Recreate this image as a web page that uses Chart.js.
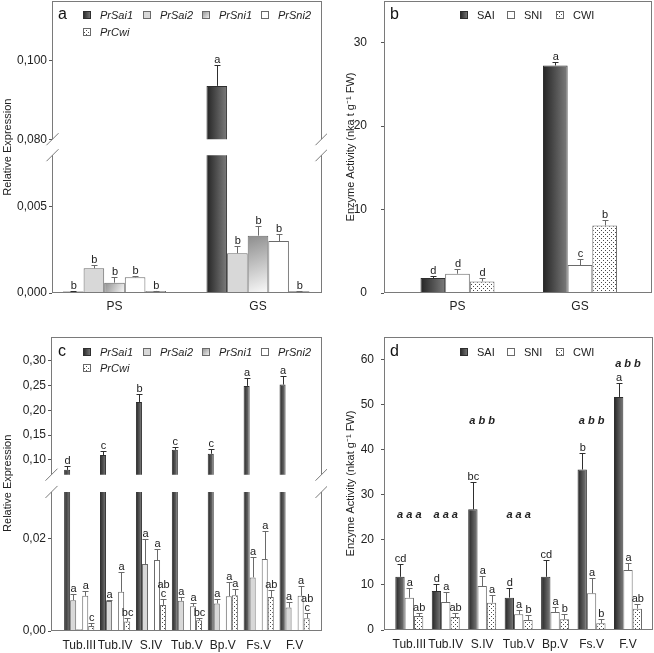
<!DOCTYPE html>
<html>
<head>
<meta charset="utf-8">
<script src="https://cdn.jsdelivr.net/npm/chart.js@4.4.1/dist/chart.umd.min.js"></script>
<style>
  body { margin: 0; background: #fff; overflow: hidden; }
  #wrap { position: relative; width: 654px; height: 653px; }
  canvas { position: absolute; }
</style>
</head>
<body>
<div id="wrap">
  <canvas id="ca" width="327" height="320" style="left:0;top:0"></canvas>
  <canvas id="cb" width="327" height="320" style="left:327px;top:0"></canvas>
  <canvas id="cc" width="327" height="333" style="left:0;top:320px"></canvas>
  <canvas id="cd" width="327" height="333" style="left:327px;top:320px"></canvas>
</div>
<script>
const FONT = '"Liberation Sans", Arial, Helvetica, sans-serif';
Chart.defaults.font.family = FONT;
Chart.defaults.color = '#222';

// ---------- data ----------
const stages = ['PS', 'GS'];
const tissues = ['Tub.III', 'Tub.IV', 'S.IV', 'Tub.V', 'Bp.V', 'Fs.V', 'F.V'];
const genes = ['PrSai1', 'PrSai2', 'PrSni1', 'PrSni2', 'PrCwi'];
const enzymes = ['SAI', 'SNI', 'CWI'];

// a: relative expression
const exprA = [
  [0.00009, 0.0935],
  [0.00143, 0.00231],
  [0.00060, 0.00333],
  [0.00091, 0.00302],
  [0.00012, 0.00010]
];
const exprAErr = [
  [0.00001, 0.0052],
  [0.00020, 0.00040],
  [0.00035, 0.00056],
  [0.00010, 0.00040],
  [0.00002, 0.00002]
];
const exprALetters = [['b', 'a'], ['b', 'b'], ['b', 'b'], ['b', 'b'], ['b', 'b']];

// b: enzyme activity
const actB = [[1.79, 27.27], [2.31, 3.35], [1.39, 8.09]];
const actBErr = [[0.2, 0.45], [0.55, 0.7], [0.4, 0.7]];
const actBLetters = [['d', 'a'], ['d', 'c'], ['d', 'b']];

// c: relative expression per tissue
const exprC = [
  [0.0797, 0.1095, 0.2169, 0.1203, 0.1122, 0.2493, 0.2519],
  [0.00665, 0.00649, 0.01444, 0.00650, 0.00593, 0.01156, 0.00506],
  [0.0004, 0.0001, 0.0002, 0.0001, 0.0001, 0.0002, 0.0001],
  [0.00758, 0.00844, 0.0153, 0.00535, 0.00751, 0.01552, 0.00758],
  [0.00108, 0.00203, 0.00563, 0.00232, 0.00773, 0.00736, 0.00275]
];
const exprCErr = [
  [0.0088, 0.0081, 0.0168, 0.0054, 0.0101, 0.0162, 0.0182],
  [0.0013, 0.0003, 0.0054, 0.0009, 0.0009, 0.0045, 0.0012],
  [0, 0, 0, 0, 0, 0, 0],
  [0.0011, 0.0043, 0.0023, 0.0006, 0.0031, 0.0061, 0.0022],
  [0.0006, 0.0007, 0.0012, 0.0005, 0.0013, 0.0014, 0.0011]
];
const exprCLetters = [
  ['d', 'c', 'b', 'c', 'c', 'a', 'a'],
  ['a', 'a', 'a', 'a', 'a', 'a', 'a'],
  ['', '', '', '', '', '', ''],
  ['a', 'a', 'a', 'a', 'a', 'a', 'a'],
  ['c', 'bc', 'ab|c', 'bc', 'a', 'ab', 'ab|c']
];

// d: enzyme activity per tissue
const actD = [
  [11.8, 8.65, 26.76, 7.17, 11.8, 35.6, 51.7],
  [7.17, 6.2, 9.76, 3.47, 4.0, 8.13, 13.3],
  [3.1, 2.88, 6.06, 2.2, 2.37, 1.48, 4.73]
];
const actDErr = [
  [2.8, 1.5, 6.0, 2.2, 3.7, 3.7, 3.1],
  [2.2, 2.2, 2.2, 1.0, 1.2, 3.3, 1.5],
  [0.7, 0.8, 1.7, 1.1, 1.2, 1.0, 1.0]
];
const actDLetters = [
  ['cd', 'd', 'bc', 'd', 'cd', 'b', 'a'],
  ['a', 'a', 'a', 'a', 'a', 'a', 'a'],
  ['ab', 'ab', 'a', 'b', 'b', 'b', 'ab']
];
const groupLettersD = ['a a a', 'a a a', 'a b b', 'a a a', '', 'a b b', 'a b b'];
const groupLevelD = [25.5, 25.5, 46.4, 25.5, null, 46.4, 59];

const geneKinds = ['dark', 'light', 'shade', 'white', 'dots'];
const enzymeKinds = ['dark', 'white', 'dots'];

// ---------- fills ----------
const dotFill = (function () {
  const c = document.createElement('canvas');
  c.width = 4; c.height = 4;
  const g = c.getContext('2d');
  g.fillStyle = '#fff'; g.fillRect(0, 0, 4, 4);
  g.fillStyle = '#4a4a4a';
  g.fillRect(0, 0, 1, 1); g.fillRect(2, 2, 1, 1);
  return g.createPattern(c, 'repeat');
})();

function makeFill(ctx, kind, l, t, r, b) {
  if (kind === 'dark' || kind === 'shade') {
    if (![l, t, r, b].every(Number.isFinite)) return kind === 'dark' ? '#555' : '#ccc';
  }
  if (kind === 'dark') {
    const g = ctx.createLinearGradient(l, 0, r, 0);
    g.addColorStop(0, '#242424'); g.addColorStop(1, '#7c7c7c');
    return g;
  }
  if (kind === 'shade') {
    const g = ctx.createLinearGradient(l, t, r, b);
    g.addColorStop(0, '#8c8c8c'); g.addColorStop(1, '#fbfbfb');
    return g;
  }
  if (kind === 'light') return '#d8d8d8';
  if (kind === 'dots') return dotFill;
  return '#ffffff';
}

function barGeom(c) {
  const ch = c.chart, ds = c.dataset, xs = ch.scales.x, ys = ch.scales[ds.yAxisID];
  if (!xs || !ys || !c.parsed) return {l: NaN, r: NaN, t: NaN, b: NaN};
  const step = Math.abs(xs.getPixelForValue(1) - xs.getPixelForValue(0));
  const group = step * ds.categoryPercentage;
  const w = group / ds.seriesCount;
  const left = xs.getPixelForValue(c.dataIndex) - group / 2 + ds.seriesIndex * w;
  return {l: left, r: left + w, t: Math.max(ys.top, ys.getPixelForValue(c.parsed.y)), b: ys.bottom};
}

function fillFor(kind) {
  if (kind !== 'dark' && kind !== 'shade') return makeFill(null, kind);
  return c => {
    if (c.type !== 'data') return kind === 'dark' ? '#555' : '#ccc';
    const g = barGeom(c);
    return makeFill(c.chart.ctx, kind, g.l, g.t, g.r, g.b);
  };
}

// ---------- decorations: error bars, letters, frame, legend ----------
function decorPlugin(P) {
  return {
    id: 'decor',
    afterDatasetsDraw(chart) {
      const ctx = chart.ctx, sy = chart.scales.y, st = chart.scales.yTop;
      ctx.save();
      P.vals.forEach((row, k) => {
        row.forEach((v, i) => {
          const upper = P.broken && v > P.low.max;
          const sc = upper ? st : sy;
          const bar = chart.getDatasetMeta(upper ? P.dsIndex[k].top : P.dsIndex[k].low).data[i];
          const x = bar.x;
          const e = P.errs[k][i];
          const y0 = sc.getPixelForValue(v), y1 = sc.getPixelForValue(v + e);
          if (e > 0) {
            ctx.strokeStyle = P.kinds[k] === 'dark' ? '#2e2e2e' : '#6a6a6a';
            ctx.lineWidth = 1;
            ctx.beginPath();
            ctx.moveTo(Math.round(x) + 0.5, y0);
            ctx.lineTo(Math.round(x) + 0.5, Math.round(y1) + 0.5);
            ctx.moveTo(Math.round(x) - 2.5, Math.round(y1) + 0.5);
            ctx.lineTo(Math.round(x) + 3.5, Math.round(y1) + 0.5);
            ctx.stroke();
          }
          const lines = P.lets[k][i].split('|').reverse();
          ctx.fillStyle = '#222';
          ctx.font = '11px ' + FONT;
          ctx.textAlign = 'center';
          ctx.textBaseline = 'alphabetic';
          lines.forEach((t, j) => ctx.fillText(t, x + 0.5, y1 - 2 - j * 9));
        });
      });
      if (P.groupLetters) {
        ctx.font = 'italic bold 11px ' + FONT;
        ctx.textBaseline = 'middle';
        P.groupLetters.forEach((t, i) => {
          if (!t) return;
          ctx.fillText(t, chart.scales.x.getPixelForValue(i), sy.getPixelForValue(P.groupLevel[i]));
        });
      }
      ctx.restore();
    },
    afterDraw(chart) {
      const ctx = chart.ctx, a = chart.chartArea;
      const L = Math.round(a.left) + 0.5, R = Math.round(a.right) - 0.5;
      const T = Math.round(a.top) + 0.5, B = Math.round(a.bottom) - 0.5;
      ctx.save();
      ctx.strokeStyle = '#7a7a7a';
      ctx.lineWidth = 1;
      ctx.beginPath();
      const segs = P.broken ? [chart.scales.yTop, chart.scales.y] : [chart.scales.y];
      segs.forEach(s => {
        ctx.moveTo(L, s.top); ctx.lineTo(L, s.bottom);
        ctx.moveTo(R, s.top); ctx.lineTo(R, s.bottom);
      });
      ctx.moveTo(L, T); ctx.lineTo(R, T);
      ctx.moveTo(L, B); ctx.lineTo(R, B);
      if (P.broken) {
        [chart.scales.yTop.bottom, chart.scales.y.top].forEach(yy => {
          [L, R].forEach(xx => {
            ctx.moveTo(xx - 6, yy + 6); ctx.lineTo(xx + 6, yy - 6);
          });
        });
      }
      ctx.stroke();

      // panel tag
      ctx.fillStyle = '#111';
      ctx.font = '16px ' + FONT;
      ctx.textAlign = 'left';
      ctx.textBaseline = 'alphabetic';
      ctx.fillText(P.tag, P.tagPos[0], P.tagPos[1]);

      // legend
      ctx.font = (P.italic ? 'italic ' : '') + '11px ' + FONT;
      ctx.textBaseline = 'middle';
      P.names.forEach((name, k) => {
        const [bx, by] = P.legendPos[k];
        const l = bx, t = by - 4, s = 8;
        ctx.fillStyle = makeFill(ctx, P.kinds[k], l, t, l + s, t + s);
        ctx.fillRect(l, t, s, s);
        ctx.strokeStyle = P.kinds[k] === 'dark' ? '#2e2e2e' : '#6a6a6a';
        ctx.strokeRect(l + 0.5, t + 0.5, s - 1, s - 1);
        ctx.fillStyle = '#222';
        ctx.fillText(name, bx + 17, by + 0.5);
      });
      ctx.restore();
    }
  };
}

// ---------- chart builder ----------
function buildChart(P) {
  const n = P.names.length;
  const datasets = [];
  P.dsIndex = [];
  P.names.forEach((name, k) => {
    const style = {
      label: name, stack: 's' + k, seriesIndex: k, seriesCount: n,
      categoryPercentage: P.catPct, barPercentage: 1,
      backgroundColor: fillFor(P.kinds[k]),
      borderColor: P.kinds[k] === 'dark' ? '#2e2e2e' : '#6a6a6a',
      borderWidth: 1
    };
    const idx = {low: datasets.length};
    datasets.push(Object.assign({}, style, {yAxisID: 'y', data: P.vals[k].map((v, i) => ({x: i, y: v}))}));
    if (P.broken && Math.max(...P.vals[k]) > P.low.max) {
      idx.top = datasets.length;
      datasets.push(Object.assign({}, style, {yAxisID: 'yTop', data: P.vals[k].map((v, i) => ({x: i, y: v}))}));
    }
    P.dsIndex.push(idx);
  });

  const fmt = v => v.toFixed(P.decimals).replace('.', ',');
  const fitY = s => { s.width = P.yWidth; s.paddingTop = 0; s.paddingBottom = 0; };
  const yGrid = {display: true, drawOnChartArea: false, drawTicks: true, tickLength: 3, color: '#555'};
  const yTicks = step => ({stepSize: step, includeBounds: false, padding: P.tickPad, font: {size: 12}, color: '#222', callback: fmt});
  const title = {display: true, text: P.title, font: {size: 11}, color: '#222', padding: {top: P.titlePad, bottom: 0}};

  const scales = {
    x: {
      type: 'linear', min: P.xMin, max: P.xMax, offset: false, stacked: true,
      grid: {display: false, drawTicks: false}, border: {display: false},
      ticks: {stepSize: 1, includeBounds: false, autoSkip: false, maxRotation: 0, minRotation: 0,
        padding: P.xLabelPad, font: {size: 12}, color: '#222',
        callback: v => (P.cats[v] !== undefined ? P.cats[v] : '')},
      afterFit: s => { s.height = P.xHeight; s.paddingLeft = 0; s.paddingRight = 0; }
    }
  };
  if (P.broken) {
    scales.yTop = {type: 'linear', position: 'left', stack: 'v', stackWeight: P.weights[0], weight: 3,
      min: P.high.min, max: P.high.max, stacked: false, ticks: yTicks(P.high.step), grid: yGrid,
      border: {display: false}, afterFit: fitY};
    scales.yGap = {type: 'linear', position: 'left', stack: 'v', stackWeight: P.weights[1], weight: 2,
      ticks: {display: false}, grid: {display: false}, border: {display: false}, title: title, afterFit: fitY};
    scales.y = {type: 'linear', position: 'left', stack: 'v', stackWeight: P.weights[2], weight: 1,
      min: 0, max: P.low.max, stacked: false, ticks: yTicks(P.low.step), grid: yGrid,
      border: {display: false}, afterFit: fitY};
  } else {
    scales.y = {type: 'linear', position: 'left', min: 0, max: P.yMax, stacked: false,
      ticks: yTicks(P.yStep), grid: yGrid, border: {display: false}, title: title, afterFit: fitY};
  }

  return new Chart(document.getElementById(P.canvas), {
    type: 'bar',
    data: {datasets},
    options: {
      responsive: false, animation: false, devicePixelRatio: 1, events: [],
      layout: {padding: {top: P.padTop, right: P.padRight, left: 0, bottom: 0}},
      plugins: {legend: {display: false}, tooltip: {enabled: false}},
      scales
    },
    plugins: [decorPlugin(P)]
  });
}

buildChart({
  canvas: 'ca', cats: stages, names: genes, kinds: geneKinds, italic: true,
  vals: exprA, errs: exprAErr, lets: exprALetters,
  broken: true, low: {max: 0.008, step: 0.005}, high: {min: 0.08, max: 0.115, step: 0.02},
  weights: [138, 16, 137.6], decimals: 3,
  xMin: -0.4355, xMax: 1.446, catPct: 0.718,
  padTop: 1, padRight: 5, yWidth: 52, xHeight: 27, xLabelPad: 6, tickPad: 2,
  title: 'Relative Expression', titlePad: 1,
  tag: 'a', tagPos: [58, 19], legendPos: [[83, 15], [143, 15], [202, 15], [261, 15], [83, 32]]
});

buildChart({
  canvas: 'cb', cats: stages, names: enzymes, kinds: enzymeKinds, italic: false,
  vals: actB, errs: actBErr, lets: actBLetters,
  broken: false, yMax: 35, yStep: 10, decimals: 0,
  xMin: -0.6, xMax: 1.588, catPct: 0.604,
  padTop: 1, padRight: 2, yWidth: 57, xHeight: 27, xLabelPad: 6, tickPad: 14,
  title: 'Enzyme Activity (nka t g\u207B\u00B9 FW)', titlePad: 17,
  tag: 'b', tagPos: [63, 19], legendPos: [[133, 15], [180, 15], [229, 15]]
});

buildChart({
  canvas: 'cc', cats: tissues, names: genes, kinds: geneKinds, italic: true,
  vals: exprC, errs: exprCErr, lets: exprCLetters,
  broken: true, low: {max: 0.03, step: 0.02}, high: {min: 0.07, max: 0.348, step: 0.05},
  weights: [137.2, 17.2, 138.6], decimals: 2,
  xMin: -0.7855, xMax: 6.763, catPct: 0.84,
  padTop: 17, padRight: 5, yWidth: 51, xHeight: 22, xLabelPad: 7, tickPad: 2,
  title: 'Relative Expression', titlePad: 1,
  tag: 'c', tagPos: [58, 36], legendPos: [[83, 32], [143, 32], [202, 32], [261, 32], [83, 48]]
});

buildChart({
  canvas: 'cd', cats: tissues, names: enzymes, kinds: enzymeKinds, italic: false,
  vals: actD, errs: actDErr, lets: actDLetters,
  groupLetters: groupLettersD, groupLevel: groupLevelD,
  broken: false, yMax: 65, yStep: 10, decimals: 0,
  xMin: -0.694, xMax: 6.686, catPct: 0.768,
  padTop: 17, padRight: 1, yWidth: 57, xHeight: 23, xLabelPad: 7, tickPad: 7,
  title: 'Enzyme Activity (nkat g\u207B\u00B9 FW)', titlePad: 17,
  tag: 'd', tagPos: [63, 36], legendPos: [[133, 32], [180, 32], [229, 32]]
});
</script>
</body>
</html>
